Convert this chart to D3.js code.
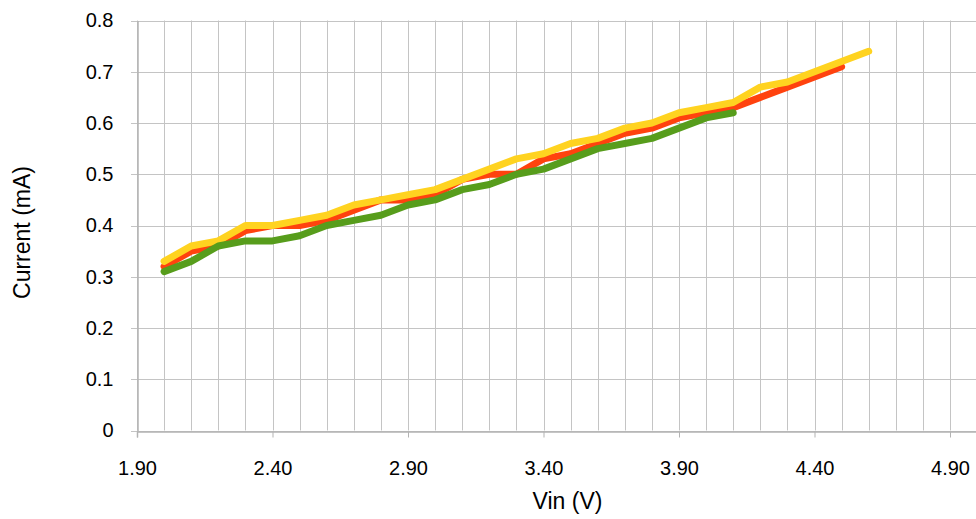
<!DOCTYPE html>
<html>
<head>
<meta charset="utf-8">
<script src="https://cdn.jsdelivr.net/npm/d3@7"></script>
<style>
  html, body { margin: 0; padding: 0; background: #fff; }
  svg { display: block; font-family: "Liberation Sans", Arial, sans-serif; }
</style>
</head>
<body>
<svg id="chart" width="976" height="519"></svg>
<script>
// Input voltage samples (V)
const vinRed    = [2.0,2.1,2.2,2.3,2.4,2.5,2.6,2.7,2.8,2.9,3.0,3.1,3.2,3.3,3.4,3.5,3.6,3.7,3.8,3.9,4.0,4.1,4.2,4.3,4.4,4.5];
const vinYellow = [2.0,2.1,2.2,2.3,2.4,2.5,2.6,2.7,2.8,2.9,3.0,3.1,3.2,3.3,3.4,3.5,3.6,3.7,3.8,3.9,4.0,4.1,4.2,4.3,4.4,4.5,4.6];
const vinGreen  = [2.0,2.1,2.2,2.3,2.4,2.5,2.6,2.7,2.8,2.9,3.0,3.1,3.2,3.3,3.4,3.5,3.6,3.7,3.8,3.9,4.0,4.1];

// Measured current (mA)
const currentRed    = [0.32,0.35,0.36,0.39,0.40,0.40,0.41,0.43,0.45,0.45,0.46,0.49,0.50,0.50,0.53,0.54,0.56,0.58,0.59,0.61,0.62,0.63,0.65,0.67,0.69,0.71];
const currentYellow = [0.33,0.36,0.37,0.40,0.40,0.41,0.42,0.44,0.45,0.46,0.47,0.49,0.51,0.53,0.54,0.56,0.57,0.59,0.60,0.62,0.63,0.64,0.67,0.68,0.70,0.72,0.74];
const currentGreen  = [0.31,0.33,0.36,0.37,0.37,0.38,0.40,0.41,0.42,0.44,0.45,0.47,0.48,0.50,0.51,0.53,0.55,0.56,0.57,0.59,0.61,0.62];

// Axis ticks
const xTickLabels = [1.90, 2.40, 2.90, 3.40, 3.90, 4.40, 4.90];
const xGridValues = d3.range(19, 51).map(v => v / 10);
const yTickValues = [0, 0.1, 0.2, 0.3, 0.4, 0.5, 0.6, 0.7, 0.8];

const series = [
  { x: vinRed,    y: currentRed,    color: "#ff420e" },
  { x: vinYellow, y: currentYellow, color: "#ffd320" },
  { x: vinGreen,  y: currentGreen,  color: "#579d1c" }
];

const svg = d3.select("#chart");
const plotLeft = 137, plotTop = 20.5, plotBottom = 430.5;
const x = d3.scaleLinear().domain([1.9, 5.0]).range([plotLeft, plotLeft + 3.1 * 271]);
const y = d3.scaleLinear().domain([0, 0.8]).range([plotBottom, plotTop]);

// Grid
const grid = svg.append("g");
grid.selectAll("line.v").data(xGridValues).join("line")
  .attr("x1", d => Math.round(x(d)) + 0.5).attr("x2", d => Math.round(x(d)) + 0.5)
  .attr("y1", plotTop).attr("y2", plotBottom)
  .attr("stroke", "#c4c4c4").attr("stroke-width", 1);
grid.selectAll("line.h").data(yTickValues).join("line")
  .attr("x1", plotLeft - 6).attr("x2", x(5.0))
  .attr("y1", d => Math.round(y(d)) + 0.5).attr("y2", d => Math.round(y(d)) + 0.5)
  .attr("stroke", "#c4c4c4").attr("stroke-width", 1);

// Axes
const xAxis = svg.append("g")
  .attr("transform", `translate(0,${Math.round(plotBottom) + 0.5})`)
  .call(d3.axisBottom(x).tickValues(xTickLabels).tickFormat(d3.format(".2f")).tickSize(6).tickPadding(23));
xAxis.select(".domain").attr("stroke", "#b3b3b3").attr("stroke-width", 1.5);
xAxis.selectAll(".tick line").attr("stroke", "#b3b3b3");
xAxis.selectAll("text").attr("font-size", 20).attr("fill", "#000").attr("font-family", "Liberation Sans, Arial, sans-serif");

const yAxis = svg.append("g")
  .attr("transform", `translate(${plotLeft + 0.5},0)`)
  .call(d3.axisLeft(y).tickValues(yTickValues).tickFormat(d => d === 0 ? "0" : d3.format(".1f")(d)).tickSize(0).tickPadding(24));
yAxis.select(".domain").attr("stroke", "#b3b3b3").attr("stroke-width", 1.5);
yAxis.selectAll("text").attr("font-size", 20).attr("fill", "#000").attr("font-family", "Liberation Sans, Arial, sans-serif");

// Data lines
const line = d3.line().x(d => x(d[0])).y(d => y(d[1]));
svg.append("g").selectAll("path").data(series).join("path")
  .attr("d", s => line(d3.zip(s.x, s.y)))
  .attr("fill", "none")
  .attr("stroke", s => s.color)
  .attr("stroke-width", 7)
  .attr("stroke-linejoin", "round")
  .attr("stroke-linecap", "round");

// Axis titles
svg.append("text")
  .attr("x", 567.5).attr("y", 509)
  .attr("text-anchor", "middle").attr("font-size", 23).attr("fill", "#000")
  .text("Vin (V)");
svg.append("text")
  .attr("transform", `translate(30,232.5) rotate(-90)`)
  .attr("text-anchor", "middle").attr("font-size", 23).attr("fill", "#000")
  .text("Current (mA)");
</script>
</body>
</html>
